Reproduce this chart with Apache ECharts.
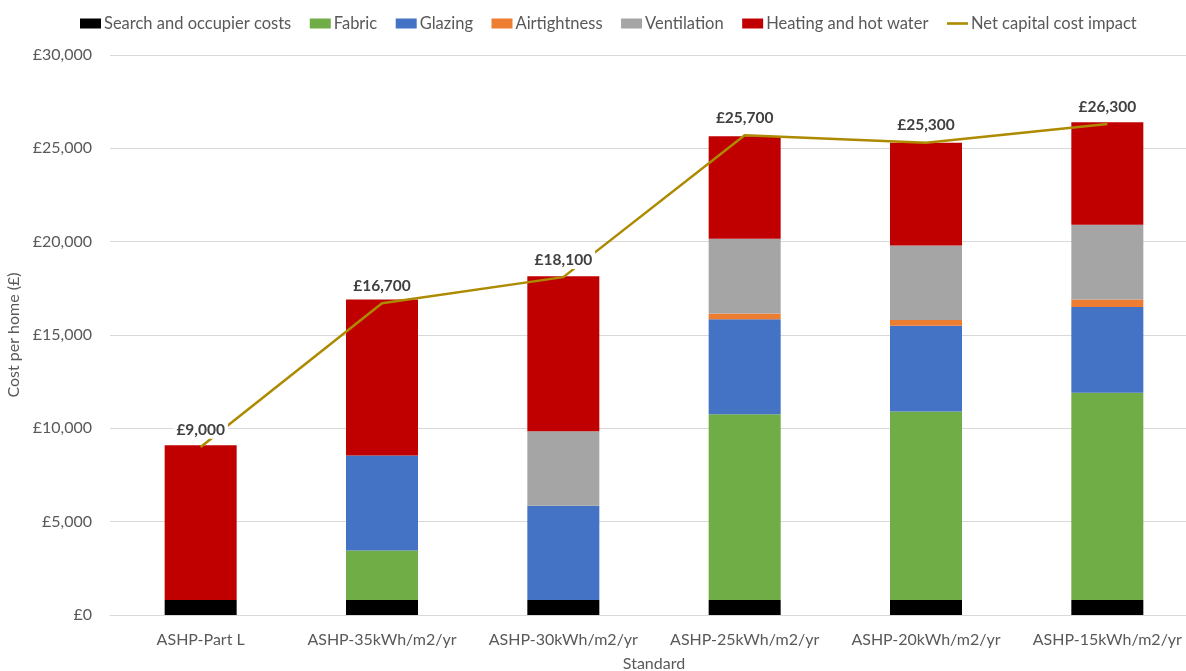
<!DOCTYPE html>
<html>
<head>
<meta charset="utf-8">
<script src="https://cdn.jsdelivr.net/npm/echarts@6/dist/echarts.min.js"></script>
<style>html,body{margin:0;padding:0;background:#fff}#c{width:1186px;height:671px}</style>
</head>
<body>
<div id="c"></div>
<script>
var categories = ['ASHP-Part L','ASHP-35kWh/m2/yr','ASHP-30kWh/m2/yr','ASHP-25kWh/m2/yr','ASHP-20kWh/m2/yr','ASHP-15kWh/m2/yr'];
var searchCosts = [800, 800, 800, 800, 800, 800];
var fabric = [0, 2650, 0, 9950, 10100, 11100];
var glazing = [0, 5100, 5050, 5100, 4600, 4600];
var airtightness = [0, 0, 0, 300, 300, 400];
var ventilation = [0, 0, 4000, 4000, 4000, 4000];
var heating = [8300, 8350, 8300, 5500, 5500, 5500];
var netCost = [9000, 16700, 18100, 25700, 25300, 26300];

var FONT = 'Lato';
var fmt = function (v) { return '£' + Number(v).toLocaleString('en-GB'); };

function barSeries(name, data, color) {
  return { name: name, type: 'bar', stack: 'cost', data: data, barWidth: 72,
    itemStyle: { color: color }, emphasis: { disabled: true } };
}

var chart = echarts.init(document.getElementById('c'), null, { renderer: 'canvas' });
chart.setOption({
  animation: false,
  textStyle: { fontFamily: FONT },
  legend: {
    top: 10, left: 75, itemGap: 18.5, itemWidth: 21, itemHeight: 10,
    textStyle: { fontFamily: FONT, fontSize: 16.5, color: '#595959', padding: [0, 0, 0, -2] },
    data: [
      { name: 'Search and occupier costs', icon: 'rect' },
      { name: 'Fabric', icon: 'rect' },
      { name: 'Glazing', icon: 'rect' },
      { name: 'Airtightness', icon: 'rect' },
      { name: 'Ventilation', icon: 'rect' },
      { name: 'Heating and hot water', icon: 'rect' },
      { name: 'Net capital cost impact', icon: 'path://M0,4 L20,4 L20,6.5 L0,6.5 Z', itemStyle: { color: '#AD8A00' } }
    ]
  },
  grid: { left: 110, top: 55, width: 1088, height: 560, outerBoundsMode: 'none', containLabel: false },
  xAxis: {
    type: 'category', data: categories,
    name: 'Standard', nameLocation: 'middle', nameGap: 41,
    nameTextStyle: { fontFamily: FONT, fontSize: 16, color: '#595959' },
    axisLine: { lineStyle: { color: '#d9d9d9', width: 1 } },
    axisTick: { show: false },
    axisLabel: { interval: 0, fontFamily: FONT, fontSize: 16, color: '#595959', margin: 17 }
  },
  yAxis: {
    type: 'value', min: 0, max: 30000, interval: 5000,
    name: 'Cost per home (£)', nameLocation: 'middle', nameGap: 85,
    nameTextStyle: { fontFamily: FONT, fontSize: 16, color: '#595959' },
    axisLine: { show: false }, axisTick: { show: false },
    axisLabel: { fontFamily: FONT, fontSize: 16, color: '#595959', margin: 18, formatter: fmt },
    splitLine: { lineStyle: { color: '#d9d9d9', width: 1 } }
  },
  series: [
    barSeries('Search and occupier costs', searchCosts, '#000000'),
    barSeries('Fabric', fabric, '#70AD47'),
    barSeries('Glazing', glazing, '#4472C4'),
    barSeries('Airtightness', airtightness, '#ED7D31'),
    barSeries('Ventilation', ventilation, '#A5A5A5'),
    barSeries('Heating and hot water', heating, '#C00000'),
    {
      name: 'Net capital cost impact', type: 'line', data: netCost,
      symbol: 'circle', symbolSize: 0.5, showSymbol: true, z: 5,
      lineStyle: { color: '#AD8A00', width: 2.5 },
      itemStyle: { color: '#AD8A00' },
      label: {
        show: true, position: 'top', distance: 8,
        fontFamily: FONT, fontSize: 15.5, fontWeight: 'bold', color: '#404040',
        backgroundColor: '#ffffff', padding: [1, 3],
        formatter: function (p) { return fmt(p.value); }
      },
      labelLayout: { hideOverlap: false },
      emphasis: { disabled: true }
    }
  ]
});
</script>
</body>
</html>
